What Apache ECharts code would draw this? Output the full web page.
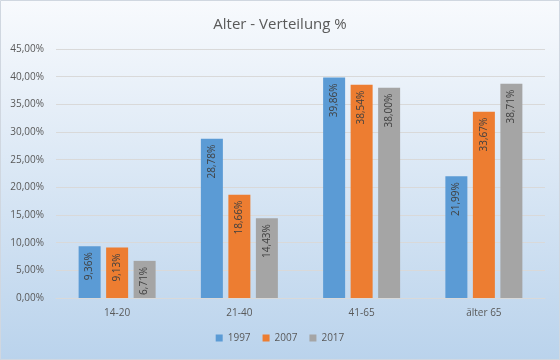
<!DOCTYPE html>
<html>
<head>
<meta charset="utf-8">
<script src="https://cdn.jsdelivr.net/npm/echarts@6/dist/echarts.min.js"></script>
<style>html,body{margin:0;padding:0;}#c{width:560px;height:360px;}</style>
</head>
<body>
<div id="c"></div>
<script>
var categories = ['14-20', '21-40', '41-65', 'älter 65'];
var years = ['1997', '2007', '2017'];
var v1997 = [9.36, 28.78, 39.86, 21.99];
var v2007 = [9.13, 18.66, 38.54, 33.67];
var v2017 = [6.71, 14.43, 38.00, 38.71];
var colors = ['#5B9BD5', '#ED7D31', '#A5A5A5'];

function fmt(v) { return v.toFixed(2).replace('.', ',') + '%'; }
var font = '"Open Sans", "Noto Sans", sans-serif';

function mk(name, data, color) {
  return {
    name: name, type: 'bar', data: data, barWidth: 22, barGap: '25%',
    itemStyle: { color: color },
    label: {
      show: true, position: 'insideTop', rotate: 90, align: 'right', verticalAlign: 'middle',
      distance: 6, color: '#404040', fontSize: 10, fontFamily: font,
      formatter: function (p) { return fmt(p.value); }
    }
  };
}

var chart = echarts.init(document.getElementById('c'));
chart.setOption({
  backgroundColor: { type: 'linear', x: 0, y: 0, x2: 0, y2: 1,
    colorStops: [{ offset: 0, color: '#F8FAFD' }, { offset: 1, color: '#BAD3EC' }] },
  animation: false,
  color: colors,
  graphic: [{ type: 'rect', shape: { x: 0.5, y: 0.5, width: 559, height: 359 },
    style: { fill: 'none', stroke: '#D0D7E0', lineWidth: 1 } }],
  title: { text: 'Alter - Verteilung %', left: 'center', top: 12,
    textStyle: { color: '#595959', fontSize: 15, fontWeight: 'normal', fontFamily: font } },
  legend: { data: years, bottom: 12, left: 'center', itemWidth: 7, itemHeight: 7, itemGap: 12,
    icon: 'rect', textStyle: { color: '#595959', fontSize: 10, fontFamily: font } },
  grid: { left: 56, right: 15, top: 49, bottom: 62 },
  xAxis: { type: 'category', data: categories,
    axisLine: { lineStyle: { color: '#D9D9D9' } }, axisTick: { show: false },
    axisLabel: { color: '#595959', fontSize: 10, fontFamily: font, margin: 10 } },
  yAxis: { type: 'value', min: 0, max: 45, interval: 5,
    axisLine: { show: false }, axisTick: { show: false },
    splitLine: { lineStyle: { color: '#D9D9D9' } },
    axisLabel: { color: '#595959', fontSize: 10, fontFamily: font, margin: 12, formatter: fmt } },
  series: [mk(years[0], v1997, colors[0]), mk(years[1], v2007, colors[1]), mk(years[2], v2017, colors[2])]
});
</script>
</body>
</html>
